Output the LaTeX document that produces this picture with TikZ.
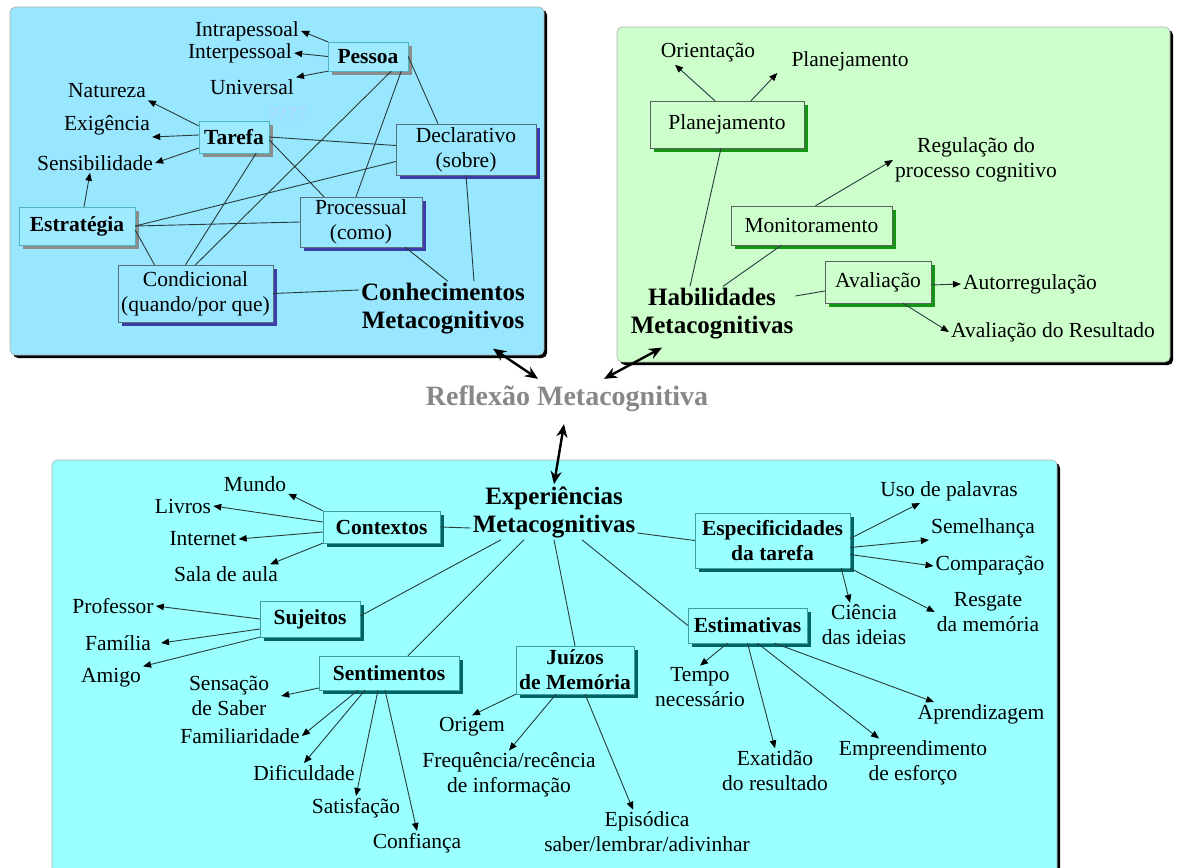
\documentclass[tikz,border=0pt]{standalone}
\usepackage{fontspec}
\setmainfont{Liberation Serif}
\usetikzlibrary{shapes,arrows.meta,shadows,calc}
\usetikzlibrary{positioning}
\definecolor{fg}{rgb}{0,0,0}
\definecolor{conhPanel}{RGB}{153,230,255}
\definecolor{conhBox}{RGB}{158,234,255}
\definecolor{conhLine}{RGB}{80,180,190}
\definecolor{shadowGray}{RGB}{140,140,140}
\definecolor{typeLine}{RGB}{90,110,120}
\definecolor{typeShadow}{RGB}{60,60,170}
\definecolor{skillPanel}{RGB}{204,255,204}
\definecolor{skillLine}{RGB}{90,100,90}
\definecolor{skillShadow}{RGB}{20,150,20}
\definecolor{experPanel}{RGB}{153,255,255}
\definecolor{experLine}{RGB}{60,160,160}
\definecolor{experShadow}{RGB}{0,100,100}
\definecolor{lineCol}{RGB}{40,60,60}
\definecolor{reflexCol}{RGB}{135,135,135}
\definecolor{duvidaCol}{RGB}{175,215,255}
\newcommand{\txtsize}{\fontsize{21.5}{25}\selectfont}
\newcommand{\ttlsize}{\fontsize{25}{28}\selectfont}
\tikzstyle{box}=[draw, rectangle, align=center, inner sep=2pt, text=fg, font=\txtsize]
\tikzstyle{conhBold}=[box, fill=conhBox, draw=conhLine, font=\txtsize\bfseries,
drop shadow={shadow xshift=4pt, shadow yshift=-4pt, fill=shadowGray, opacity=1}]
\tikzstyle{conhType}=[box, fill=conhPanel, draw=typeLine,
drop shadow={shadow xshift=4pt, shadow yshift=-4pt, fill=typeShadow, opacity=1}]
\tikzstyle{skill}=[box, fill=skillPanel, draw=skillLine,
drop shadow={shadow xshift=4pt, shadow yshift=-4pt, fill=skillShadow, opacity=1}]
\tikzstyle{exper}=[box, fill=experPanel, draw=experLine, font=\txtsize\bfseries,
drop shadow={shadow xshift=4pt, shadow yshift=-4pt, fill=experShadow, opacity=1}]
\tikzstyle{lbl}=[align=center, inner sep=2pt, text=fg, font=\txtsize]
\tikzstyle{title}=[align=center, inner sep=2pt, text=fg, font=\ttlsize\bfseries]
\tikzstyle{link}=[draw=lineCol, line width=0.9pt]
\tikzstyle{myarrow}=[link, -{Triangle[length=8pt, width=6.5pt, color=black]}]
\tikzstyle{bigarrow}=[{Stealth[length=13pt, width=11pt]}-{Stealth[length=13pt, width=11pt]}, line width=2.4pt, draw=black]
\tikzstyle{panel}=[draw=gray!60, line width=0.6pt, rounded corners=5pt,
drop shadow={shadow xshift=3pt, shadow yshift=-3pt, fill=black, opacity=1}]

\begin{document}
\begin{tikzpicture}[x=1pt, y=-1pt]
    \useasboundingbox (0,0) rectangle (1177,867);

    \path[panel, fill=conhPanel] (10,7) rectangle (544,355);
    \path[panel, fill=skillPanel] (617,27) rectangle (1170,362);
    \path[panel, fill=experPanel] (52,460) rectangle (1057,900);

    % CONHECIMENTOS
    \node[title] (conhec) at (443,309) {Conhecimentos\\Metacognitivos};

    % PESSOA
    \node[conhBold, minimum width=80pt, minimum height=29pt] (pessoa) at (368,56.5) {Pessoa};
    \node[lbl] (intra) at (247,31) {Intrapessoal};
    \node[lbl] (inter) at (240,53) {Interpessoal};
    \node[lbl] (univ) at (252,87) {Universal};
    \draw[myarrow] (pessoa.north west) -- (intra.east);
    \draw[myarrow] (pessoa.west) -- (inter.east);
    \draw[myarrow] (pessoa.south west) -- (univ.north east);

    % TAREFA
    \node[conhBold, minimum width=70pt, minimum height=32pt] (tarefa) at (234,137) {Tarefa};
    \node[lbl] (natureza) at (107,91) {Natureza};
    \node[lbl] (exigencia) at (107,125) {Exigência};
    \node[lbl] (sensib) at (95,163) {Sensibilidade};
    \node[lbl, text=duvidaCol] (duvida) at (287,115) {????};
    \draw[myarrow] ([yshift=11pt]tarefa.west) -- (natureza.south east);
    \draw[myarrow] ([yshift=2pt]tarefa.west) -- (exigencia.south east);
    \draw[myarrow] ([yshift=-11pt]tarefa.west) -- (sensib.east);

    % ESTRATEGIA
    \node[conhBold, minimum width=116pt, minimum height=38pt] (estrategia) at (77,226) {Estratégia};
    \draw[myarrow] ([xshift=7pt]estrategia.north) -- ([xshift=-5pt]sensib.south);

    % TIPOS DE CONHECIMENTO
    \node[conhType, minimum width=140pt, minimum height=51pt] (declarativo) at (466,149.5) {Declarativo\\(sobre)};
    \node[conhType, minimum width=122pt, minimum height=50pt] (processual) at (361,222) {Processual\\(como)};
    \node[conhType, minimum width=155pt, minimum height=57pt] (condicional) at (195.5,293.5) {Condicional\\(quando/por que)};

    \draw[link] (pessoa.east) -- ([xshift=-28pt]declarativo.north);
    \draw[link] ([xshift=-7pt]pessoa.south east) -- ([xshift=-5pt]processual.north);
    \draw[link] ([xshift=-17pt]pessoa.south east) -- (condicional.north);
    \draw[link] (tarefa.east) -- ([yshift=4pt]declarativo.west);
    \draw[link] ([yshift=-3pt]tarefa.east) -- ([xshift=-37pt]processual.north);
    \draw[link] ([xshift=-13pt]tarefa.south east) -- ([xshift=-10pt]condicional.north);
    \draw[link] (estrategia.east) -- ([yshift=-12pt]declarativo.west);
    \draw[link] (estrategia.east) -- (processual.west);
    \draw[link] ([yshift=-4pt]estrategia.east) -- ([xshift=-41pt]condicional.north);
    \draw[link] (condicional.east) -- ([yshift=19pt]conhec.west);
    \draw[link] ([xshift=-17pt]processual.south east) -- ([xshift=5pt]conhec.north);
    \draw[link] (declarativo.south) -- ([xshift=31pt]conhec.north);

    % HABILIDADES
    \node[title] (habil) at (712,314) {Habilidades\\Metacognitivas};

    % PLANEJAMENTO
    \node[skill, minimum width=154pt, minimum height=47pt] (planBox) at (727,124.5) {Planejamento};
    \node[lbl] (orientacao) at (708,53) {Orientação};
    \node[lbl] (planTxt) at (850,61) {Planejamento};
    \draw[myarrow] ([xshift=-12pt]planBox.north) -- ([xshift=-33pt]orientacao.south);
    \draw[myarrow] ([xshift=24pt]planBox.north) -- ([xshift=-12pt]planTxt.south west);
    \draw[link] ([xshift=-6pt]planBox.south) -- ([xshift=-22pt]habil.north);

    % MONITORAMENTO
    \node[skill, minimum width=161pt, minimum height=39pt] (monitor) at (811.5,225.5) {Monitoramento};
    \node[lbl] (regulacao) at (976,160) {Regulação do\\processo cognitivo};
    \draw[myarrow] ([xshift=4pt]monitor.north) -- (regulacao.west);
    \draw[link] ([xshift=-30pt]monitor.south) -- ([xshift=11pt]habil.north);

    % AVALIACAO
    \node[skill, minimum width=106pt, minimum height=42pt] (avaliacao) at (878,282) {Avaliação};
    \node[lbl] (autorreg) at (1030,284) {Autorregulação};
    \node[lbl] (avalRes) at (1053,332) {Avaliação do Resultado};
    \draw[myarrow] ([yshift=-3pt]avaliacao.east) -- (autorreg.west);
    \draw[myarrow] ([xshift=25pt]avaliacao.south) -- (avalRes.west);
    \draw[link] ([yshift=-9pt]avaliacao.west) -- ([yshift=18pt]habil.east);

    % REFLEXAO
    \node[title, font=\fontsize{28}{32}\selectfont\bfseries, text=reflexCol] (reflexao) at (567,399) {Reflexão Metacognitiva};
    \node[title] (experiencias) at (554,512) {Experiências\\Metacognitivas};
    \draw[bigarrow] ([shift={(-29pt,5pt)}]reflexao.north) -- ([shift={(50pt,-12pt)}]conhec.south);
    \draw[bigarrow] ([shift={(37pt,5pt)}]reflexao.north) -- ([shift={(-50pt,-6pt)}]habil.south);
    \draw[bigarrow] ([shift={(-3pt,-10pt)}]reflexao.south) -- (experiencias.north);

    % CONTEXTOS
    \node[exper, minimum width=117pt, minimum height=32pt] (contextos) at (381.5,527) {Contextos};
    \node[lbl] (mundo) at (255,484) {Mundo};
    \node[lbl] (livros) at (183,506) {Livros};
    \node[lbl] (internet) at (203,539) {Internet};
    \node[lbl] (sala) at (226,574) {Sala de aula};
    \draw[myarrow] (contextos.north west) -- (mundo.south east);
    \draw[myarrow] ([yshift=5pt]contextos.west) -- (livros.east);
    \draw[myarrow] ([yshift=-5pt]contextos.west) -- (internet.east);
    \draw[myarrow] (contextos.south west) -- ([xshift=-10pt]sala.north east);
    \draw[link] (contextos.east) -- ([yshift=-16pt]experiencias.west);

    % SUJEITOS
    \node[exper, minimum width=100pt, minimum height=36pt] (sujeitos) at (310,619) {Sujeitos};
    \node[lbl] (professor) at (113,606) {Professor};
    \node[lbl] (familia) at (118,643) {Família};
    \node[lbl] (amigo) at (111,678) {Amigo};
    \draw[myarrow] (sujeitos.west) -- (professor.east);
    \draw[myarrow] ([yshift=-10pt]sujeitos.west) -- ([xshift=8pt]familia.east);
    \draw[myarrow] (sujeitos.south west) -- (amigo.north east);
    \draw[link] ([yshift=3pt]sujeitos.east) -- ([xshift=-53pt]experiencias.south);

    % SENTIMENTOS
    \node[exper, minimum width=140pt, minimum height=34pt] (sentimentos) at (389,673) {Sentimentos};
    \node[lbl] (sensacao) at (229,696) {Sensação\\de Saber};
    \node[lbl] (familiaridade) at (240,736) {Familiaridade};
    \node[lbl] (dificuldade) at (304,773) {Dificuldade};
    \node[lbl] (satisfacao) at (356,808) {Satisfação};
    \node[lbl] (confianca) at (417,843) {Confiança};
    \draw[myarrow] ([yshift=-15pt]sentimentos.west) -- ([xshift=10pt]sensacao.east);
    \draw[myarrow] ([xshift=-31pt]sentimentos.south) -- (familiaridade.east);
    \draw[myarrow] ([xshift=-24pt]sentimentos.south) -- (dificuldade.north);
    \draw[myarrow] ([xshift=-11pt]sentimentos.south) -- (satisfacao.north);
    \draw[myarrow] ([xshift=-4pt]sentimentos.south) -- (confianca.north);
    \draw[link] ([xshift=19pt]sentimentos.north) -- ([xshift=-30pt]experiencias.south);

    % JUIZOS DE MEMORIA
    \node[exper, minimum width=118pt, minimum height=48pt] (juizos) at (575,670) {Juízos\\de Memória};
    \node[lbl] (origem) at (472,727) {Origem};
    \node[lbl] (frequencia) at (509,775) {Frequência/recência\\de informação};
    \node[lbl] (episodica) at (647,832) {Episódica\\saber/lembrar/adivinhar};
    \draw[myarrow] (juizos.south west) -- (origem.north);
    \draw[myarrow] ([xshift=-19pt]juizos.south) -- (frequencia.north);
    \draw[myarrow] ([xshift=10pt]juizos.south) -- ([xshift=-14pt]episodica.north);
    \draw[link] (juizos.north) -- (experiencias.south);

    % ESPECIFICIDADES DA TAREFA
    \node[exper, minimum width=155pt, minimum height=55pt] (especificidades) at (772.5,540.5) {Especificidades\\da tarefa};
    \node[lbl] (uso) at (949,491) {Uso de palavras};
    \node[lbl] (semelhanca) at (983,528) {Semelhança};
    \node[lbl] (comparacao) at (990,566) {Comparação};
    \node[lbl] (resgate) at (988,612) {Resgate\\da memória};
    \node[lbl] (ciencia) at (864,625) {Ciência\\das ideias};
    \draw[myarrow] ([yshift=2pt]especificidades.east) -- ([xshift=-29pt]uso.south);
    \draw[myarrow] ([yshift=-7pt]especificidades.east) -- (semelhanca.south west);
    \draw[myarrow] ([yshift=-14pt]especificidades.east) -- (comparacao.west);
    \draw[myarrow] (especificidades.south east) -- (resgate.west);
    \draw[myarrow] ([xshift=-9pt]especificidades.south east) -- ([xshift=-14pt]ciencia.north);
    \draw[link] ([yshift=-21pt]experiencias.east) -- (especificidades.west);

    % ESTIMATIVAS
    \node[exper, minimum width=119pt, minimum height=35pt] (estimativas) at (747.5,625.5) {Estimativas};
    \node[lbl] (tempo) at (700,687.5) {Tempo\\necessário};
    \node[lbl] (exatidao) at (775,770.5) {Exatidão\\do resultado};
    \node[lbl] (empreend) at (913,763) {Empreendimento\\de esforço};
    \node[lbl] (aprendizagem) at (981,714) {Aprendizagem};
    \draw[myarrow] ([xshift=-20pt]estimativas.south) -- (tempo.north);
    \draw[myarrow] (estimativas.south) -- (exatidao.north);
    \draw[myarrow] ([xshift=10pt]estimativas.south) -- ([xshift=-34pt]empreend.north);
    \draw[myarrow] ([xshift=27pt]estimativas.south) -- ([xshift=-47pt]aprendizagem.north);
    \draw[link] ([xshift=28pt]experiencias.south) -- (estimativas.west);

\end{tikzpicture}
\end{document}
